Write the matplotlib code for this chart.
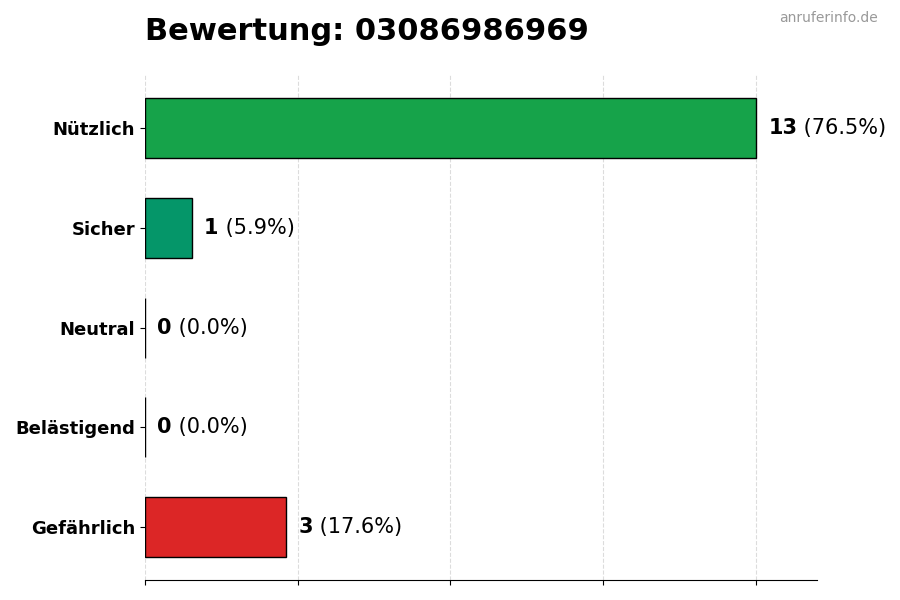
import matplotlib
matplotlib.use('Agg')
import matplotlib.pyplot as plt

# data
categories = ['Nützlich', 'Sicher', 'Neutral', 'Belästigend', 'Gefährlich']
counts = [13, 1, 0, 0, 3]
colors = ['#16a34a', '#059669', '#6b7280', '#f97316', '#dc2626']
phone = '03086986969'

total = sum(counts)
vmax = max(counts)

fig, ax = plt.subplots(figsize=(9, 6), dpi=100)
fig.subplots_adjust(left=0.161, right=0.908, top=0.875, bottom=0.033)

ypos = list(range(len(categories)))[::-1]
ax.barh(ypos, counts, height=0.6, color=colors, edgecolor='black', linewidth=1)

ax.set_yticks(ypos)
ax.set_yticklabels(categories, fontsize=13, fontweight='bold')
ax.set_xlim(0, vmax * 1.1)
ax.set_xticks([vmax * i / 4 for i in range(5)])
ax.set_xticklabels([])
ax.grid(axis='x', linestyle='--', alpha=0.5, color='#bbbbbb')
ax.set_axisbelow(True)
for s in ['top', 'right', 'left']:
    ax.spines[s].set_visible(False)

# value labels: bold count, then percentage
for y, c in zip(ypos, counts):
    t = ax.text(c + vmax * 0.02, y, str(c), fontsize=15, fontweight='bold',
                va='center', ha='left')
    ax.annotate(' (%.1f%%)' % (100.0 * c / total), xy=(1, 0.5), xycoords=t,
                va='center', ha='left', fontsize=15)

ax.set_title('Bewertung: ' + phone, fontsize=22, fontweight='bold', loc='left', pad=25)
fig.text(0.975, 0.97, 'anruferinfo.de', ha='right', va='center', fontsize=10, color='#999999')

fig.savefig('out.png', dpi=100)
